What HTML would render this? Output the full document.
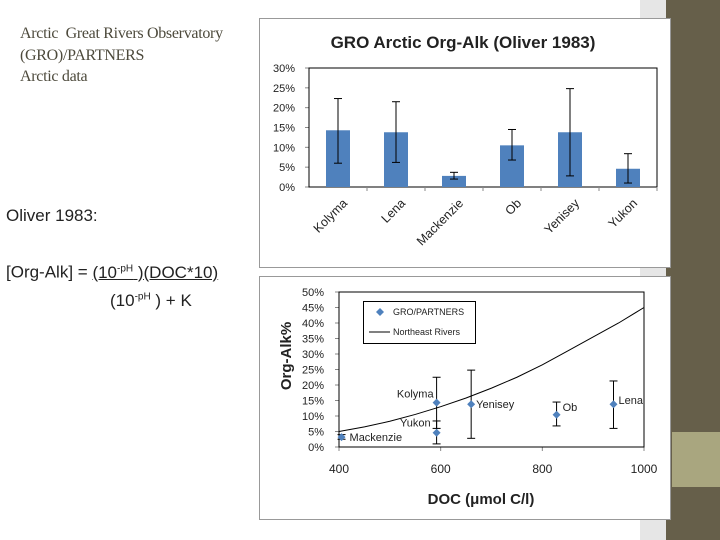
<!DOCTYPE html>
<html><head><meta charset="utf-8"><style>
body{margin:0;width:720px;height:540px;background:#fff;position:relative;overflow:hidden;font-family:"Liberation Sans",sans-serif}
.abs{position:absolute}
</style></head><body>
<div class="abs" style="left:640px;top:0;width:26px;height:540px;background:#e6e6e6"></div>
<div class="abs" style="left:666px;top:0;width:54px;height:540px;background:#665f4a"></div>
<div class="abs" style="left:672px;top:432px;width:48px;height:55px;background:#a9a67f"></div>
<div class="abs" style="left:20px;top:23px;font-family:'Liberation Serif',serif;font-size:16px;line-height:21.5px;color:#4d4a3c;letter-spacing:-0.3px">Arctic&nbsp; Great Rivers Observatory<br>(GRO)/PARTNERS<br>Arctic data</div>
<div class="abs" style="left:6px;top:206px;font-size:17px;color:#222">Oliver 1983:</div>
<div class="abs" style="left:6px;top:256px;font-size:17px;color:#222;line-height:25px">[Org-Alk] = <span style="text-decoration:underline">(10<sup style="font-size:10px">-pH</sup> )(DOC*10)</span><br><span style="margin-left:104px">(10<sup style="font-size:10px">-pH</sup> ) + K</span></div>

<svg class="abs" style="left:0;top:0" width="720" height="540">
<rect x="259.5" y="18.5" width="411" height="249" fill="#fff" stroke="#999"/>
<rect x="259.5" y="276.5" width="411" height="243" fill="#fff" stroke="#999"/>
<text x="463" y="48" text-anchor="middle" font-size="17" font-weight="bold" fill="#222">GRO Arctic Org-Alk (Oliver 1983)</text>
<g id="bar"></g><g id="sc"></g>
</svg>
<script>
const cats=["Kolyma","Lena","Mackenzie","Ob","Yenisey","Yukon"];
const vals=[14.3,13.8,2.8,10.5,13.8,4.6];
const errLo=[6,6.2,2,6.8,2.8,1];
const errHi=[22.3,21.5,3.7,14.5,24.8,8.4];
const barTicks=[0,5,10,15,20,25,30];
const ptNames=["Mackenzie","Kolyma","Yukon","Yenisey","Ob","Lena"];
const ptX=[405,592,592,660,828,940];
const ptY=[3.2,14.3,4.6,13.8,10.4,13.8];
const ptLo=[2.5,6,1,2.8,6.8,6];
const ptHi=[4,22.5,8.4,24.8,14.5,21.3];
const curveX=[400,450,500,550,600,650,700,750,800,850,900,950,1000];
const curveY=[5,6.5,8.3,10.5,13,15.8,19,22.5,26.5,31,35.5,40,45];
const yTicks=[0,5,10,15,20,25,30,35,40,45,50];
const xTicks=[400,600,800,1000];
const NS="http://www.w3.org/2000/svg";
function mk(p,t,a,txt){const e=document.createElementNS(NS,t);for(const k in a)e.setAttribute(k,a[k]);if(txt!==undefined)e.textContent=txt;p.appendChild(e);return e;}
// bar chart
const B=document.getElementById('bar');
const bx0=309,bx1=657,by0=187,by1=68;
const by=v=>by0-(v/30)*(by0-by1);
const bw=(bx1-bx0)/cats.length;
barTicks.forEach(t=>{
 const e=mk(B,'text',{x:bx0-14,y:by(t)+4,'text-anchor':'end','font-size':11,fill:'#222'},t+'%');
 
 mk(B,'line',{x1:bx0-4,x2:bx0,y1:by(t),y2:by(t),stroke:'#888'});
});
mk(B,'rect',{x:bx0,y:by1,width:bx1-bx0,height:by0-by1,fill:'none',stroke:'#000'});
cats.forEach((c,i)=>{
 const cx=bx0+bw*(i+0.5);
 const r=mk(B,'rect',{x:cx-12,y:by(vals[i]),width:24,height:by0-by(vals[i]),fill:'#4f81bd'});
 
 const g=mk(B,'g',{stroke:'#000','stroke-width':1});
 
 mk(g,'line',{x1:cx,x2:cx,y1:by(errLo[i]),y2:by(errHi[i])});
 mk(g,'line',{x1:cx-4,x2:cx+4,y1:by(errLo[i]),y2:by(errLo[i])});
 mk(g,'line',{x1:cx-4,x2:cx+4,y1:by(errHi[i]),y2:by(errHi[i])});
 mk(B,'line',{x1:bx0+bw*(i+1),x2:bx0+bw*(i+1),y1:by0,y2:by0+4,stroke:'#888'});
 const t=mk(B,'text',{x:cx+10,y:204,'text-anchor':'end','font-size':12.5,fill:'#222',transform:`rotate(-45 ${cx+10} 204)`},c);
 
});
// scatter
const S=document.getElementById('sc');
const sx0=339,sx1=644,sy0=447,sy1=292;
const sx=v=>sx0+(v-400)/600*(sx1-sx0);
const sy=v=>sy0-(v/50)*(sy0-sy1);
yTicks.forEach(t=>{
 const e=mk(S,'text',{x:sx0-15,y:sy(t)+4,'text-anchor':'end','font-size':11,fill:'#222'},t+'%');
 
 mk(S,'line',{x1:sx0-4,x2:sx0,y1:sy(t),y2:sy(t),stroke:'#888'});
});
xTicks.forEach(t=>{
 const e=mk(S,'text',{x:sx(t),y:473,'text-anchor':'middle','font-size':12,fill:'#222'},t);
 
 mk(S,'line',{x1:sx(t),x2:sx(t),y1:sy0,y2:sy0+4,stroke:'#888'});
});
mk(S,'rect',{x:sx0,y:sy1,width:sx1-sx0,height:sy0-sy1,fill:'none',stroke:'#000'});
const cp=mk(S,'polyline',{points:curveX.map((x,i)=>sx(x)+','+sy(curveY[i])).join(' '),fill:'none',stroke:'#000','stroke-width':1});

const offs={Mackenzie:[8,4,'start'],Kolyma:[-3,-5,'end'],Yukon:[-6,-6,'end'],Yenisey:[5,4,'start'],Ob:[6,-4,'start'],Lena:[5,0,'start']};
ptNames.forEach((n,i)=>{
 const x=sx(ptX[i]);
 const g=mk(S,'g',{stroke:'#000'});
 
 mk(g,'line',{x1:x,x2:x,y1:sy(ptLo[i]),y2:sy(ptHi[i])});
 mk(g,'line',{x1:x-4,x2:x+4,y1:sy(ptLo[i]),y2:sy(ptLo[i])});
 mk(g,'line',{x1:x-4,x2:x+4,y1:sy(ptHi[i]),y2:sy(ptHi[i])});
 const y=sy(ptY[i]);
 const p=mk(S,'polygon',{points:`${x},${y-4} ${x+4},${y} ${x},${y+4} ${x-4},${y}`,fill:'#4f81bd'});
 
 const o=offs[n];
 const t=mk(S,'text',{x:x+o[0],y:y+o[1],'text-anchor':o[2],'font-size':11,fill:'#222'},n);
 
});
const lg=mk(S,'g',{});

mk(lg,'rect',{x:363.5,y:301.5,width:112,height:42,fill:'#fff',stroke:'#000'});
mk(lg,'polygon',{points:'380,308 384,312 380,316 376,312',fill:'#4f81bd'});
const l1=mk(lg,'text',{x:393,y:315,'font-size':9,fill:'#222'},'GRO/PARTNERS');

mk(lg,'line',{x1:369,x2:390,y1:332,y2:332,stroke:'#000'});
const l2=mk(lg,'text',{x:393,y:335,'font-size':9,fill:'#222'},'Northeast Rivers');

const yt=mk(S,'text',{x:291,y:356,'text-anchor':'middle','font-size':15,'font-weight':'bold',fill:'#222',transform:'rotate(-90 291 356)'},'Org-Alk%');

const xt=mk(S,'text',{x:481,y:504,'text-anchor':'middle','font-size':15,'font-weight':'bold',fill:'#222'},'DOC (μmol C/l)');

</script>
</body></html>
